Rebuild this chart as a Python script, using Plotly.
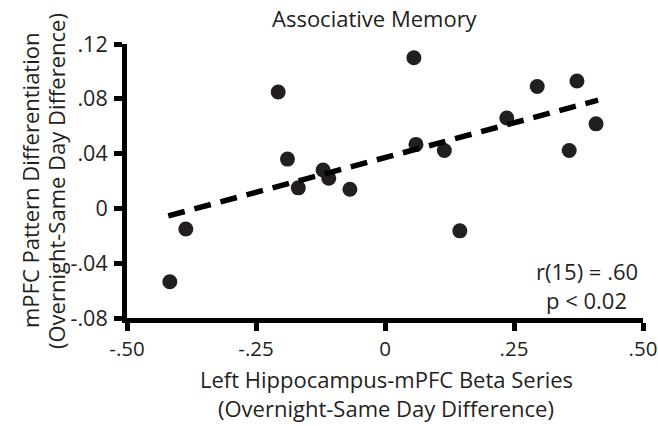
import plotly.graph_objects as go

# Data
beta_x = [-0.417, -0.386, -0.207, -0.189, -0.168, -0.120, -0.109, -0.068,
          0.056, 0.060, 0.115, 0.145, 0.236, 0.295, 0.372, 0.357, 0.409]
pattern_y = [-0.0535, -0.015, 0.085, 0.036, 0.015, 0.028, 0.022, 0.014,
             0.110, 0.0467, 0.0423, -0.0164, 0.066, 0.089, 0.093, 0.0423, 0.0617]
fit_x = [-0.42, 0.413]
fit_y = [-0.0055, 0.079]

x_ticks = [-0.5, -0.25, 0, 0.25, 0.5]
x_tick_labels = ["-.50", "-.25", "0", ".25", ".50"]
y_ticks = [-0.08, -0.04, 0, 0.04, 0.08, 0.12]
y_tick_labels = ["-.08", "-.04", "0", ".04", ".08", ".12"]

INK = "#231f20"
FONT = "Open Sans"
FS = 22

fig = go.Figure()
fig.add_trace(go.Scatter(x=beta_x, y=pattern_y, mode="markers",
                         marker=dict(color=INK, size=15, line=dict(width=0)),
                         showlegend=False, cliponaxis=False))
fig.add_trace(go.Scatter(x=fit_x, y=fit_y, mode="lines",
                         line=dict(color="black", width=5.5, dash="17px,10px"),
                         hoverinfo="skip", showlegend=False))

axis_common = dict(showline=True, linewidth=5, linecolor="black",
                   ticks="outside", ticklen=8, tickwidth=5, tickcolor="black",
                   showgrid=False, zeroline=False, automargin=False)
fig.update_xaxes(range=[-0.5, 0.5], tickvals=x_ticks, ticktext=x_tick_labels,
                 ticklabelstandoff=0, tickfont=dict(family=FONT, size=20.5, color=INK),
                 **axis_common)
fig.update_yaxes(range=[-0.08, 0.12], tickvals=y_ticks, ticktext=y_tick_labels,
                 ticklabelstandoff=2, tickfont=dict(family=FONT, size=21.5, color=INK),
                 **axis_common)

tf = dict(family=FONT, size=FS, color=INK)
fig.update_layout(
    width=658, height=426,
    margin=dict(l=127, r=15, t=43.5, b=107.5),
    plot_bgcolor="white", paper_bgcolor="white",
    font=tf,
)

def px_x(p):
    return (p - 127) / 516.0

def px_y(p):
    return 1 - (p - 43.5) / 275.0

anns = [
    ("Associative Memory", 375, 17, 0),
    ("Left Hippocampus-mPFC Beta Series", 386, 380, 0),
    ("(Overnight-Same Day Difference)", 385.5, 409, 0),
    ("mPFC Pattern Differentiation", 30, 181, -90),
    ("(Overnight-Same Day Difference)", 56, 181, -90),
    ("r(15) = .60", 586.5, 271, 0),
    ("p < 0.02", 586.5, 300, 0),
]
for text, xp, yp, ang in anns:
    fig.add_annotation(text=text, x=px_x(xp), y=px_y(yp), xref="x domain", yref="y domain",
                       showarrow=False, xanchor="center", yanchor="middle",
                       textangle=ang, font=tf)

fig.write_html("out.html")
